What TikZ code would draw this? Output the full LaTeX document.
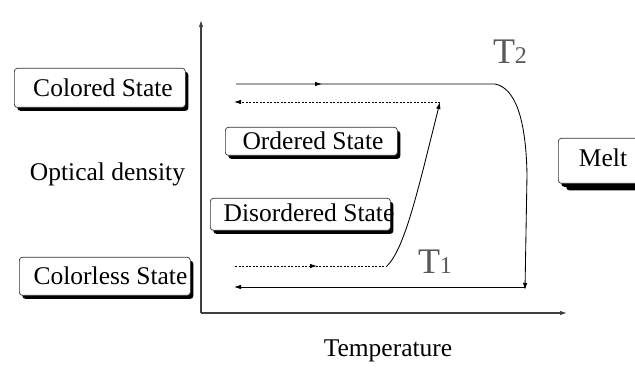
\documentclass[tikz,border=0pt]{standalone}
\usepackage{fontspec}
\setmainfont{Liberation Serif}
\usetikzlibrary{arrows.meta,shadows,decorations.markings}
\begin{document}
\begin{tikzpicture}[x=1pt,y=-1pt,
  sbox/.style={draw=black!80, line width=0.7pt, rounded corners=3pt, fill=white,
    inner sep=0pt, anchor=north west,
    drop shadow={shadow xshift=3pt, shadow yshift=-3.5pt, opacity=1, fill=black}},
  mbox/.style={sbox, drop shadow={shadow xshift=8pt, shadow yshift=-7pt, opacity=1, fill=black}},
  lbl/.style={font=\fontsize{25.5}{30}\selectfont, inner sep=0pt, anchor=base},
  tlbl/.style={text=black!65, inner sep=0pt, anchor=base},
  axis/.style={draw=black!75, line width=1.1pt, -{Latex[length=7pt,width=4.5pt]}},
  curve/.style={line width=0.85pt},
  tip/.style={-{Latex[length=7pt,width=4.5pt]}},
  dots/.style={dash pattern=on 2pt off 1.5pt},
  midarrow/.style={postaction={decorate}, decoration={markings,
    mark=at position #1 with {\arrow{Latex[length=7pt,width=4.5pt]}}}}
]
\clip (0,0) rectangle (635,382);
\fill[white] (0,0) rectangle (635,382);

% axes
\coordinate (O) at (201,313);
\coordinate (Ytop) at (201,20);
\coordinate (Xend) at (567,313);
\draw[axis] (O) -- (Ytop);
\draw[axis] (O) -- (Xend);

% boxes
\node[sbox, minimum width=171pt, minimum height=39pt] (bcol) at (14,68) {};
\node[sbox, minimum width=172pt, minimum height=28pt] (bord) at (225,127) {};
\node[sbox, minimum width=180pt, minimum height=32pt] (bdis) at (210,198) {};
\node[sbox, minimum width=171pt, minimum height=38pt] (bcl) at (19,257) {};
\node[mbox, minimum width=100pt, minimum height=45pt] (bmelt) at (558,138) {};

% texts
\node[lbl] (tcol) at (103,97) {Colored State};
\node[lbl] (tord) at (313,150) {Ordered State};
\node[lbl] (tdis) at (309,222) {Disordered State};
\node[lbl] (tcl) at (110.5,285) {Colorless State};
\node[lbl] (tmelt) at (603,167) {Melt};
\node[lbl] (topt) at (107.5,181) {Optical density};
\node[lbl] (ttemp) at (388,356) {Temperature};
\node[tlbl] (T2) at (510,64) {\fontsize{36}{40}\selectfont T\fontsize{24}{28}\selectfont 2};
\node[tlbl] (T1) at (435,274) {\fontsize{36}{40}\selectfont T\fontsize{24}{28}\selectfont 1};

% path coordinates
\coordinate (a1) at (236,84);
\coordinate (a2) at (495,84);
\coordinate (a3) at (527,175);
\coordinate (a4) at (525,290);
\coordinate (b1) at (440,102);
\coordinate (b2) at (234,102);
\coordinate (c1) at (235,266);
\coordinate (c2) at (387,266);
\coordinate (d1) at (525,287);
\coordinate (d2) at (234,287);

% heating along colored state and melting
\draw[curve, tip, midarrow=86pt] (a1) -- (a2) .. controls (515,88) and (526,118) .. (a3) -- (a4);
% cooling, dotted, colored
\draw[curve, dots, tip] (b1) -- (b2);
% lower dotted heating
\draw[curve, dots, midarrow=82pt] (c1) -- (c2);
% rising transition at T1
\draw[curve, tip] (c2) .. controls (405,248) and (418,190) .. (b1);
% lower solid cooling
\draw[curve, tip] (d1) -- (d2);
\end{tikzpicture}
\end{document}
